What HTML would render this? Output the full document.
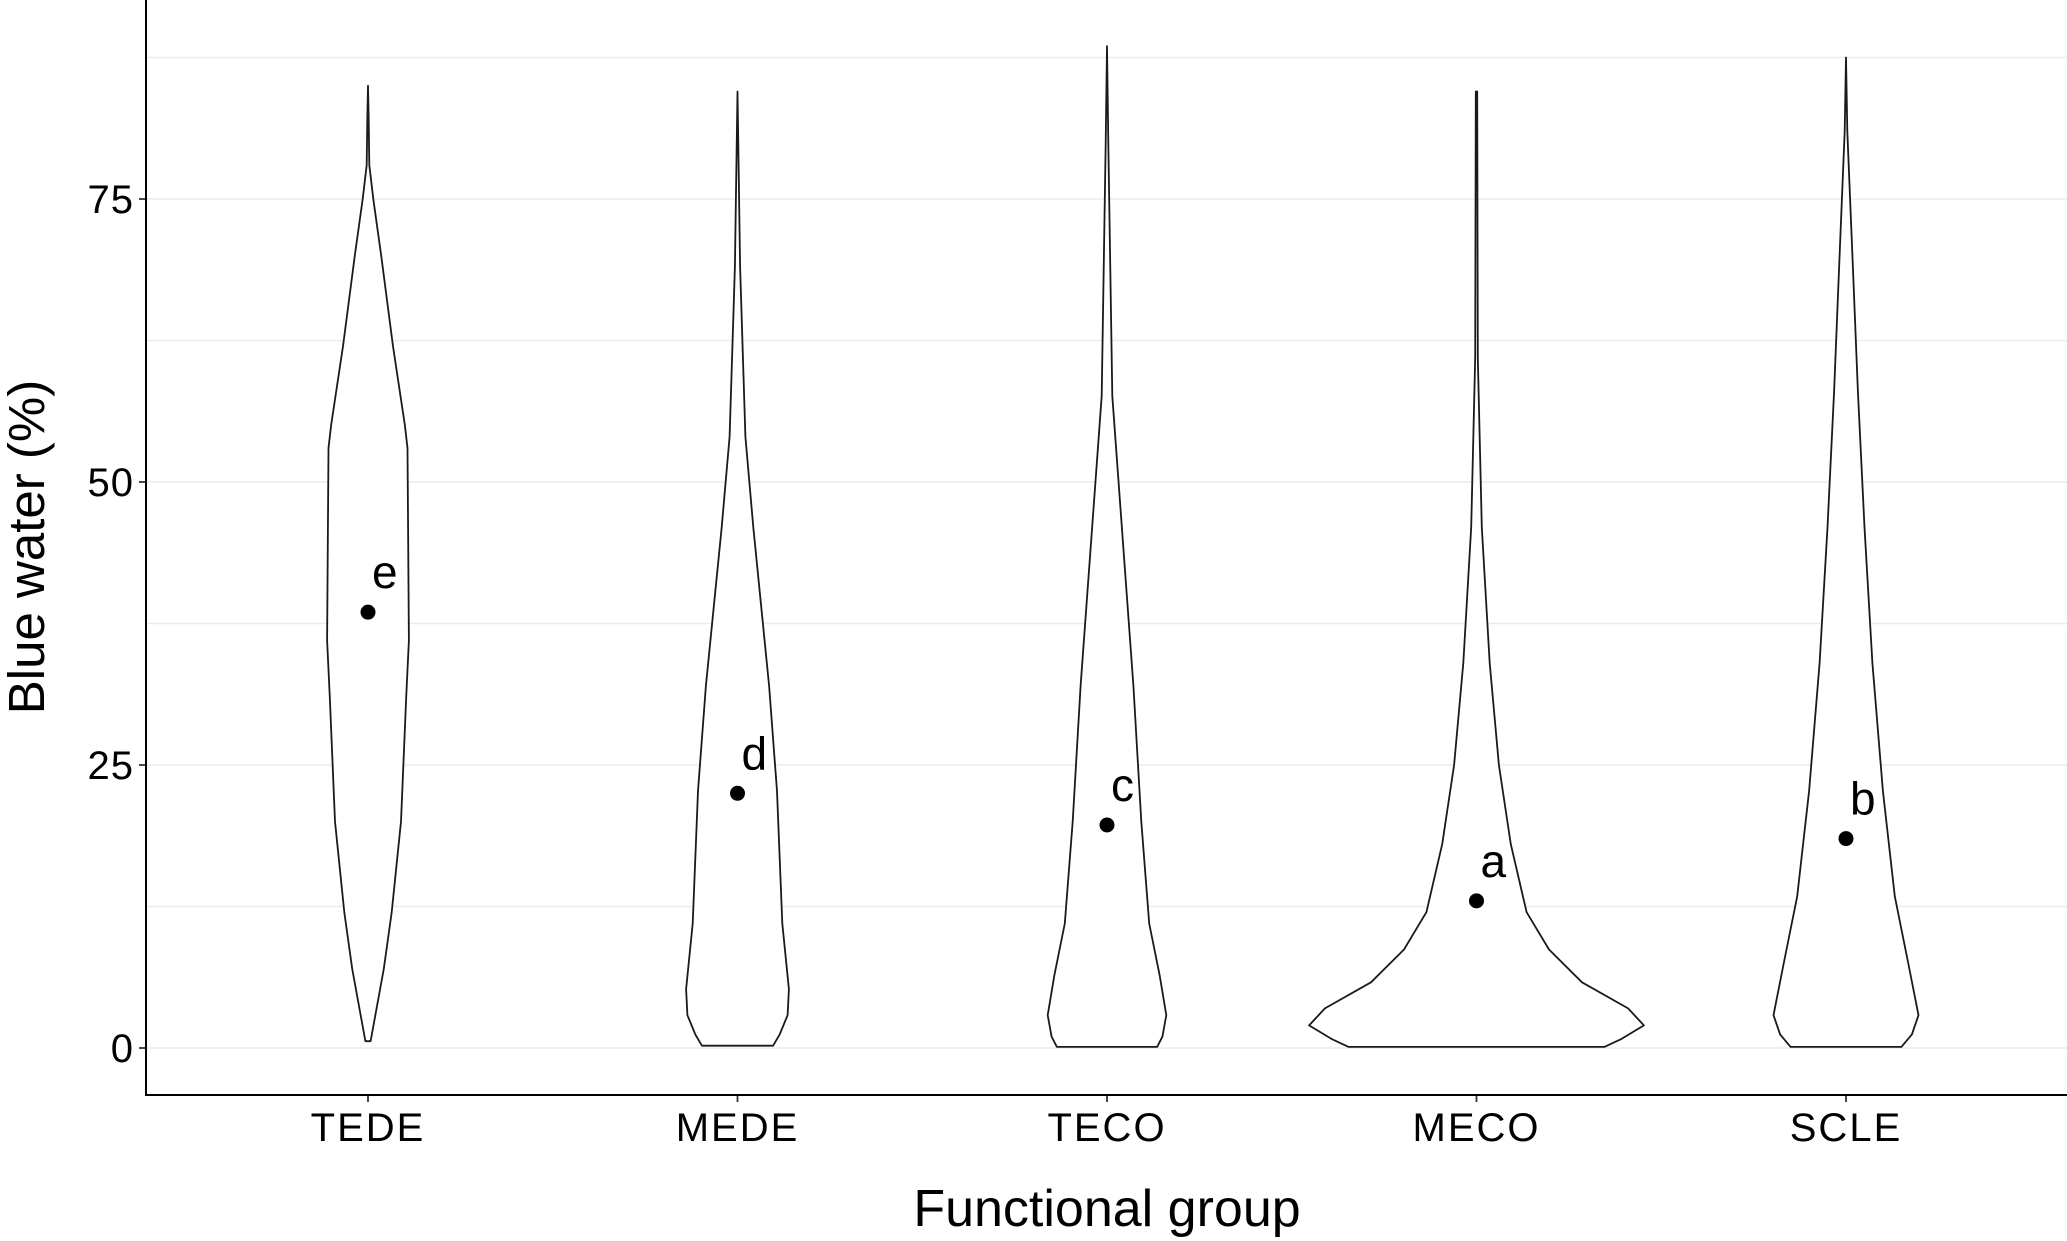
<!DOCTYPE html>
<html><head><meta charset="utf-8"><style>
html,body{margin:0;padding:0;background:#fff}
svg{display:block;font-family:"Liberation Sans",Arial,sans-serif}
</style></head><body>
<svg id="chart" width="2067" height="1241" viewBox="0 0 2067 1241" xmlns="http://www.w3.org/2000/svg">
<rect width="2067" height="1241" fill="#fff"/>
<g id="grid"></g><g id="violins"></g><g id="axes"></g>
</svg>
<script>
const categories = ["TEDE","MEDE","TECO","MECO","SCLE"];
const means = [38.5, 22.5, 19.7, 13.0, 18.5];
const letters = ["e","d","c","a","b"];
const yTicks = [0,25,50,75];
const yMinor = [12.5,37.5,62.5,87.5];
// violin profiles: values and densities (half-width units)
const tedeVals = [85,82,78,75,70,62,55,53,36,31,20,12,7,0.6];
const tedeDens = [0,0.5,1,4,10,19,28,30,31,29,25,18,12,2];
const medeVals = [84.5,69,54,46,39,32,22.7,11,5.2,2.9,1.2,0.2];
const medeDens = [0,2,6,12,18,24,30,34,39,38,32,27];
const tecoVals = [88.5,80,57.6,48,40,32,20,11,6.4,2.9,1.0,0.1];
const tecoDens = [0,1,4,10,15,20,26,32,40,45,42,38];
const mecoVals = [84.5,61,46,34,25,18,12,8.7,5.8,3.5,2,0.8,0.1];
const mecoDens = [0.5,1,4,10,17,26,38,55,80,115,127,110,97];
const scleVals = [87.5,81,69.6,58,46,34,22.7,13.4,7.6,2.9,1.2,0.1];
const scleDens = [0,1,5,9,14,20,28,37,47,55,50,42];
const profVals = [tedeVals,medeVals,tecoVals,mecoVals,scleVals];
const profDens = [tedeDens,medeDens,tecoDens,mecoDens,scleDens];

const S = 2067/1568;
const plotL = 146, plotB = 1095, plotR = 2067;
const yScale = v => 1048 - v*(1048-199)/75;
const xScale = i => 368 + i*369.5;
const wScale = d => d*S;
const NS = "http://www.w3.org/2000/svg";
function mk(tag, attrs, parent){const e=document.createElementNS(NS,tag);for(const k in attrs)e.setAttribute(k,attrs[k]);parent.appendChild(e);return e;}
const grid=document.getElementById('grid'), vg=document.getElementById('violins'), ax=document.getElementById('axes');

yTicks.concat(yMinor).forEach(v=>{
  const l=mk('line',{x1:plotL,x2:plotR,y1:yScale(v),y2:yScale(v),stroke:'#ebebeb','stroke-width':1.5},grid);
  
  
});

categories.forEach((c,i)=>{
  const cx=xScale(i), vals=profVals[i], dens=profDens[i];
  let pts=[];
  for(let k=0;k<vals.length;k++) pts.push([cx+wScale(dens[k]), yScale(vals[k])]);
  for(let k=vals.length-1;k>=0;k--) pts.push([cx-wScale(dens[k]), yScale(vals[k])]);
  const p=mk('path',{d:'M'+pts.map(p=>p[0].toFixed(1)+','+p[1].toFixed(1)).join('L')+'Z',fill:'#fff',stroke:'#1a1a1a','stroke-width':1.8,'stroke-linejoin':'round'},vg);
  
  
  const d=mk('circle',{cx:cx,cy:yScale(means[i]),r:7.5,fill:'#000'},vg);
  
  
  const t=mk('text',{x:cx+4,y:yScale(means[i])-24,'font-size':46,fill:'#000'},vg);
  t.textContent=letters[i];
  
  
  const tk=mk('line',{x1:cx,x2:cx,y1:plotB,y2:plotB+7,stroke:'#333','stroke-width':1.8},ax);
  
  
  const tl=mk('text',{x:cx,y:plotB+46,'font-size':40,'letter-spacing':2,'text-anchor':'middle',fill:'#000'},ax);
  tl.textContent=c;
  
  
});

yTicks.forEach(v=>{
  const tk=mk('line',{x1:plotL-7,x2:plotL,y1:yScale(v),y2:yScale(v),stroke:'#333','stroke-width':1.8},ax);
  
  
  const tl=mk('text',{x:plotL-12,y:yScale(v)+14,'font-size':40,'letter-spacing':1,'text-anchor':'end',fill:'#000'},ax);
  tl.textContent=v;
  
  
});
const axl=mk('path',{d:`M${plotL},0L${plotL},${plotB}L${plotR},${plotB}`,fill:'none',stroke:'#000','stroke-width':2},ax);


const xt=mk('text',{x:1107,y:1226,'font-size':52,'text-anchor':'middle',fill:'#000'},ax);
xt.textContent='Functional group';


const yt=mk('text',{x:0,y:0,'font-size':51,'text-anchor':'middle',fill:'#000',transform:'translate(44,547) rotate(-90)'},ax);
yt.textContent='Blue water (%)';


</script>
</body></html>
